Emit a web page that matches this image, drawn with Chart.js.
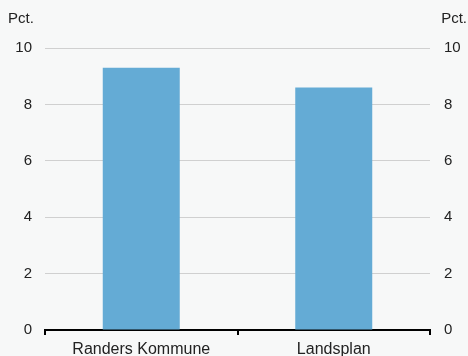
<html><head>
<meta charset="UTF-8">
<title>Pct.</title>
<script src="https://cdn.jsdelivr.net/npm/chart.js"></script>
<style>
    body { margin: 0; background: #f7f8f8; }
    .wrap { width: 468px; height: 356px; }
</style>
</head>
<body>
<div class="wrap"><canvas id="chart"></canvas></div>
<script>
const categories = ['Randers Kommune', 'Landsplan'];
const values = [9.3, 8.6];
const yMin = 0;
const yMax = 10;
const yStep = 2;
const unitLabel = 'Pct.';

const FONT = '"Liberation Sans", Arial, Helvetica, sans-serif';

// "Pct." over both y axes
const unitPlugin = {
    id: 'unitLabels',
    afterDraw(chart) {
        const ctx = chart.ctx;
        ctx.save();
        ctx.font = '15px ' + FONT;
        ctx.fillStyle = '#222';
        ctx.textBaseline = 'middle';
        ctx.textAlign = 'left';
        ctx.fillText(unitLabel, 8, 19);
        ctx.textAlign = 'right';
        ctx.fillText(unitLabel, 467, 19);
        ctx.restore();
    }
};

new Chart(document.getElementById('chart'), {
    type: 'bar',
    data: {
        labels: categories,
        datasets: [{
            data: values,
            backgroundColor: '#64abd5',
            categoryPercentage: 0.8,
            barPercentage: 0.5
        }]
    },
    plugins: [unitPlugin],
    options: {
        responsive: true,
        maintainAspectRatio: false,
        animation: false,
        layout: { padding: { top: 48, left: 0, right: 0, bottom: 0 } },
        plugins: { legend: { display: false }, tooltip: { enabled: false } },
        scales: {
            x: {
                grid: { drawOnChartArea: false, drawTicks: true, tickLength: 5, color: '#000', lineWidth: 2 },
                border: { color: '#000', width: 2 },
                ticks: { color: '#222', font: { family: FONT, size: 16 }, padding: 5 },
                afterFit: s => { s.height = 26; }
            },
            y: {
                position: 'left',
                min: yMin, max: yMax,
                grid: { color: '#d0d0d0', lineWidth: 1, drawTicks: false },
                border: { display: false },
                ticks: { stepSize: yStep, color: '#222', font: { family: FONT, size: 15 }, padding: 13 },
                afterFit: s => { s.width = 45; }
            },
            y2: {
                position: 'right',
                min: yMin, max: yMax,
                grid: { display: false, drawTicks: false },
                border: { display: false },
                ticks: { stepSize: yStep, color: '#222', font: { family: FONT, size: 15 }, padding: 14 },
                afterFit: s => { s.width = 38; }
            }
        }
    }
});
</script>
</body></html>
